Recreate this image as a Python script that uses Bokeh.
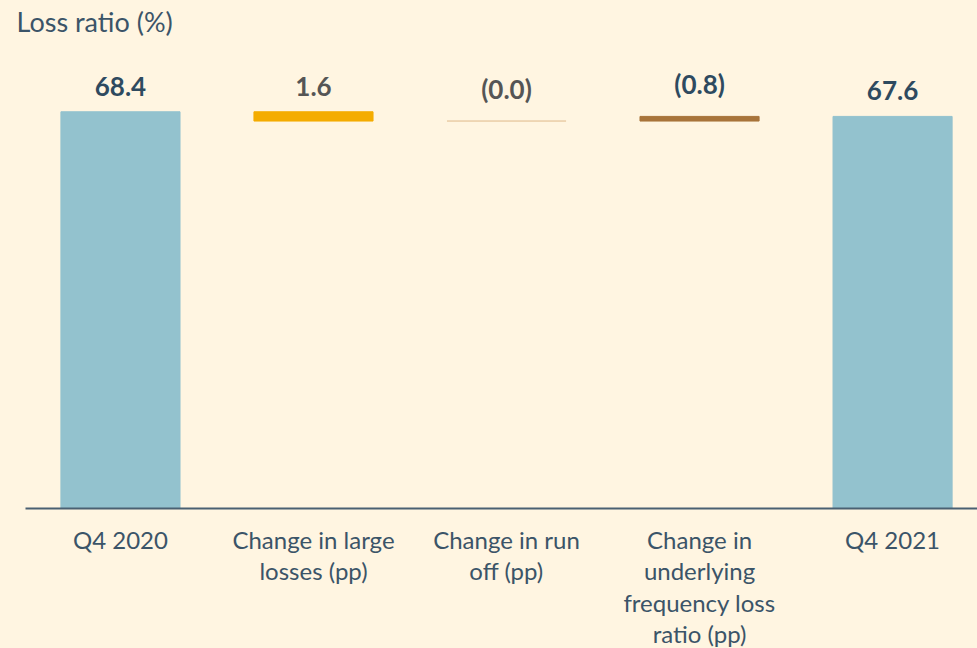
from bokeh.plotting import figure
from bokeh.models import ColumnDataSource, Range1d, FixedTicker, Title
from bokeh.core.properties import value
from bokeh.embed import file_html
from bokeh.resources import INLINE

# ---- data ----
categories = [
    "Q4 2020",
    "Change in large\nlosses (pp)",
    "Change in run\noff (pp)",
    "Change in\nunderlying\nfrequency loss\nratio (pp)",
    "Q4 2021",
]
start_value = 68.4
changes = [-1.6, 0.0, 0.8]
end_value = 67.6
value_labels = ["68.4", "1.6", "(0.0)", "(0.8)", "67.6"]

fill_colors = ["#93C2CE", "#F4AC00", "#E9CDA6", "#A8743A", "#93C2CE"]
label_colors = ["#2E4A5F", "#555555", "#555555", "#2E4A5F", "#2E4A5F"]

# ---- waterfall geometry ----
bottoms = [0.0]
tops = [start_value]
running = start_value
for c in changes:
    bottoms.append(min(running, running + c))
    tops.append(max(running, running + c))
    running += c
bottoms.append(0.0)
tops.append(end_value)
xs = list(range(len(categories)))

src = ColumnDataSource(dict(x=xs, bottom=bottoms, top=tops, fill=fill_colors,
                            label=value_labels, lcolor=label_colors))

BG = "#FFF5E1"
FONT = "Lato"
TEXT = "#3B5468"

p = figure(frame_width=952, frame_height=469, output_backend="svg", toolbar_location=None,
           x_range=Range1d(-0.492, 4.44), y_range=Range1d(0, 80.86),
           y_axis_location=None,
           min_border_left=25, min_border_right=0, min_border_top=0, min_border_bottom=0,
           background_fill_color=BG, border_fill_color=BG, outline_line_color=None)

p.add_layout(Title(text="Loss ratio (%)", align="left", offset=-9, standoff=4,
                   text_font_size="27px", text_font=FONT, text_color=TEXT,
                   text_font_style="normal"), "above")

p.vbar(x="x", bottom="bottom", top="top", width=0.617, source=src,
       fill_color="fill", line_color="fill", line_width=1)

p.text(x="x", y="top", text="label", source=src, text_align="center",
       text_baseline="bottom", y_offset=-16, text_font=value(FONT),
       text_font_size="26px", text_font_style="bold", text_color="lcolor")

p.grid.visible = False
ax = p.xaxis[0]
ax.ticker = FixedTicker(ticks=xs)
ax.major_label_overrides = {i: c for i, c in zip(xs, categories)}
ax.major_tick_line_color = None
ax.minor_tick_line_color = None
ax.axis_line_color = "#4A6072"
ax.axis_line_width = 2
ax.major_label_text_font = FONT
ax.major_label_text_font_size = "24px"
ax.major_label_text_color = TEXT
ax.major_label_text_line_height = 1.09
ax.major_label_standoff = 10

html = file_html(p, INLINE)
html = html.replace("<head>", "<head><style>body{background:%s}</style>" % BG, 1)
open("out.html", "w").write(html)
